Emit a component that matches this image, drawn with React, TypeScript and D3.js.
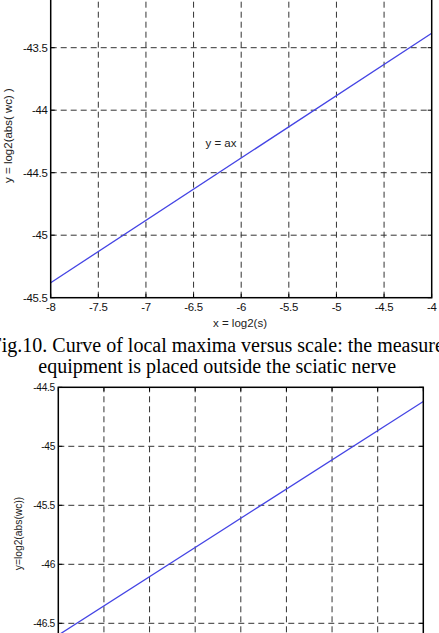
import React, { useEffect } from "react";
import * as d3 from "d3";

// ---- Data ----
const xTicks = [-8, -7.5, -7, -6.5, -6, -5.5, -5, -4.5, -4];
const xTickLabels = ["-8", "-7.5", "-7", "-6.5", "-6", "-5.5", "-5", "-4.5", "-4"];
const topYTicks = [-45.5, -45, -44.5, -44, -43.5, -43];
const topYTickLabels = ["-45.5", "-45", "-44.5", "-44", "-43.5", ""];
const topLineX = [-8, -4];
const topLineY = [-45.38, -43.385];
const botYTicks = [-47, -46.5, -46, -45.5, -45, -44.5];
const botYTickLabels = ["", "-46.5", "-46", "-45.5", "-45", "-44.5"];
const botLineX = [-8, -4];
const botLineY = [-46.6, -44.62];

const captionLines = [
  "Fig.10. Curve of local maxima versus scale: the measure",
  "equipment is placed outside the sciatic nerve",
];

const SANS = "'Liberation Sans', Arial, Helvetica, sans-serif";
const SERIF = "'Liberation Serif', 'Times New Roman', serif";
const GRID = "#333";
const DASH = "6,4";
const BLUE = "#4444e4";

type PanelProps = {
  x0: number; x1: number; yTop: number; yBot: number;
  yDomain: [number, number]; yTicks: number[]; yLabels: string[];
  lx: number[]; ly: number[]; fs: number; labelRight: number;
  showXLabels: boolean;
};

function Panel(p: PanelProps) {
  const x = d3.scaleLinear().domain([-8, -4]).range([p.x0, p.x1]);
  const y = d3.scaleLinear().domain(p.yDomain).range([p.yBot, p.yTop]);
  const line = d3
    .line<number>()
    .x((_, i) => x(p.lx[i]))
    .y((d) => y(d));
  const tk = 4;
  return (
    <g>
      {xTicks.slice(1, -1).map((t) => (
        <line key={"gx" + t} x1={x(t)} x2={x(t)} y1={y(p.yDomain[0])} y2={y(p.yDomain[1])}
          stroke={GRID} strokeWidth={1} strokeDasharray={DASH} />
      ))}
      {p.yTicks.filter((t) => t !== p.yDomain[0] && t !== p.yDomain[1]).map((t) => (
        <line key={"gy" + t} x1={p.x0} x2={p.x1} y1={y(t)} y2={y(t)}
          stroke={GRID} strokeWidth={1} strokeDasharray={DASH} />
      ))}
      <path d={line(p.ly) || ""} fill="none" stroke={BLUE} strokeWidth={1.3} />
      {xTicks.map((t) => (
        <g key={"tx" + t}>
          <line x1={x(t)} x2={x(t)} y1={y(p.yDomain[0])} y2={y(p.yDomain[0]) - tk} stroke="#000" />
          <line x1={x(t)} x2={x(t)} y1={y(p.yDomain[1])} y2={y(p.yDomain[1]) + tk} stroke="#000" />
        </g>
      ))}
      {p.yTicks.map((t) => (
        <g key={"ty" + t}>
          <line x1={p.x0} x2={p.x0 + tk} y1={y(t)} y2={y(t)} stroke="#000" />
          <line x1={p.x1} x2={p.x1 - tk} y1={y(t)} y2={y(t)} stroke="#000" />
        </g>
      ))}
      <rect x={p.x0} y={y(p.yDomain[1])} width={p.x1 - p.x0} height={y(p.yDomain[0]) - y(p.yDomain[1])}
        fill="none" stroke="#000" strokeWidth={1.5} />
      {p.yTicks.map((t, i) =>
        p.yLabels[i] ? (
          <text key={"ly" + t} x={p.labelRight} y={y(t)} dy="0.35em" textAnchor="end"
            fontFamily={SANS} fontSize={p.fs} fill="#111" letterSpacing={-0.3}>
            {p.yLabels[i]}
          </text>
        ) : null
      )}
      {p.showXLabels &&
        xTicks.map((t, i) => (
          <text key={"lx" + t} x={x(t)} y={y(p.yDomain[0]) + 13} textAnchor="middle"
            fontFamily={SANS} fontSize={p.fs} fill="#111" letterSpacing={-0.3}>
            {xTickLabels[i]}
          </text>
        ))}
    </g>
  );
}

export default function App() {
  useEffect(() => {
    document.body.style.margin = "0";
  }, []);
  return (
    <svg width={439} height={633} style={{ position: "absolute", left: 0, top: 0, background: "#fff" }}>
      <rect width={439} height={633} fill="#fff" />
      <Panel x0={50.7} x1={431.7} yTop={-14.8} yBot={297.7} yDomain={[-45.5, -43]}
        yTicks={topYTicks} yLabels={topYTickLabels} lx={topLineX} ly={topLineY}
        fs={11.4} labelRight={47.5} showXLabels={true} />
      <text x={221} y={146.5} textAnchor="middle" fontFamily={SANS} fontSize={11.5} fill="#222">y = ax</text>
      <text transform="translate(11.5,135.5) rotate(-90)" textAnchor="middle" fontFamily={SANS}
        fontSize={11.5} fill="#222">y = log2(abs( wc) )</text>
      <text x={240} y={326.5} textAnchor="middle" fontFamily={SANS} fontSize={11.5} fill="#222">x = log2(s)</text>
      {captionLines.map((c, i) => (
        <text key={i} x={217.2} y={352 + i * 21} textAnchor="middle" fontFamily={SERIF}
          fontSize={20} fill="#000">{c}</text>
      ))}
      <Panel x0={58.3} x1={423.3} yTop={387.3} yBot={682.3} yDomain={[-47, -44.5]}
        yTicks={botYTicks} yLabels={botYTickLabels} lx={botLineX} ly={botLineY}
        fs={10.2} labelRight={55} showXLabels={false} />
      <text transform="translate(22,533.5) rotate(-90)" textAnchor="middle" fontFamily={SANS}
        fontSize={10.3} fill="#222">y=log2(abs(wc))</text>
    </svg>
  );
}
